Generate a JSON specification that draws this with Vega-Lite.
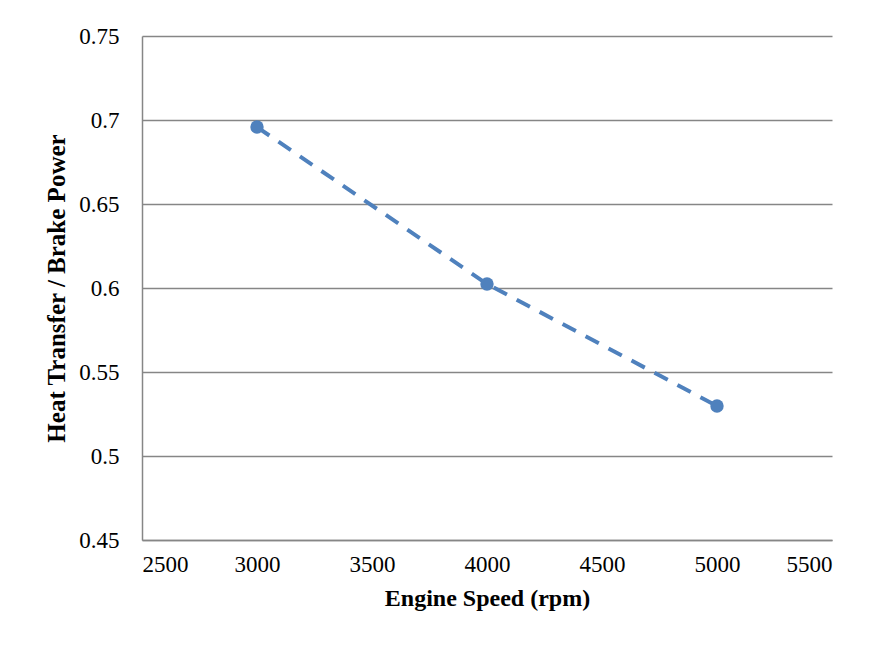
{
  "$schema": "https://vega.github.io/schema/vega-lite/v6.json",
  "width": 690,
  "height": 504,
  "autosize": {"type": "none"},
  "padding": {"left": 142, "top": 36, "right": 44, "bottom": 106},
  "background": "white",
  "config": {
    "view": {"stroke": null},
    "font": "Liberation Serif"
  },
  "data": {
    "values": [
      {"speed": 3000, "ratio": 0.6958},
      {"speed": 4000, "ratio": 0.6024},
      {"speed": 5000, "ratio": 0.5298}
    ]
  },
  "encoding": {
    "x": {
      "field": "speed",
      "type": "quantitative",
      "scale": {"domain": [2500, 5500], "nice": false, "zero": false},
      "axis": {
        "title": "Engine Speed (rpm)",
        "values": [2500, 3000, 3500, 4000, 4500, 5000, 5500],
        "format": "d",
        "grid": false,
        "ticks": false,
        "domainColor": "#868686",
        "domainWidth": 1.5,
        "labelFont": "Liberation Serif",
        "labelFontSize": 23,
        "labelColor": "#000000",
        "labelPadding": 13,
        "titleFont": "Liberation Serif",
        "titleFontSize": 24,
        "titleFontWeight": "bold",
        "titleColor": "#000000",
        "titlePadding": 10
      }
    },
    "y": {
      "field": "ratio",
      "type": "quantitative",
      "scale": {"domain": [0.45, 0.75], "nice": false, "zero": false},
      "axis": {
        "title": "Heat Transfer / Brake Power",
        "values": [0.45, 0.5, 0.55, 0.6, 0.65, 0.7, 0.75],
        "format": "~g",
        "grid": true,
        "gridColor": "#868686",
        "gridWidth": 1.5,
        "ticks": false,
        "domainColor": "#868686",
        "domainWidth": 1.5,
        "labelFont": "Liberation Serif",
        "labelFontSize": 23,
        "labelColor": "#000000",
        "labelPadding": 23,
        "titleFont": "Liberation Serif",
        "titleFontSize": 25,
        "titleFontWeight": "bold",
        "titleColor": "#000000",
        "titlePadding": 9
      }
    }
  },
  "layer": [
    {
      "mark": {"type": "line", "color": "#4F81BD", "strokeWidth": 4, "strokeDash": [15, 11]}
    },
    {
      "mark": {"type": "point", "filled": true, "shape": "circle", "size": 180, "color": "#4F81BD", "opacity": 1}
    }
  ]
}
